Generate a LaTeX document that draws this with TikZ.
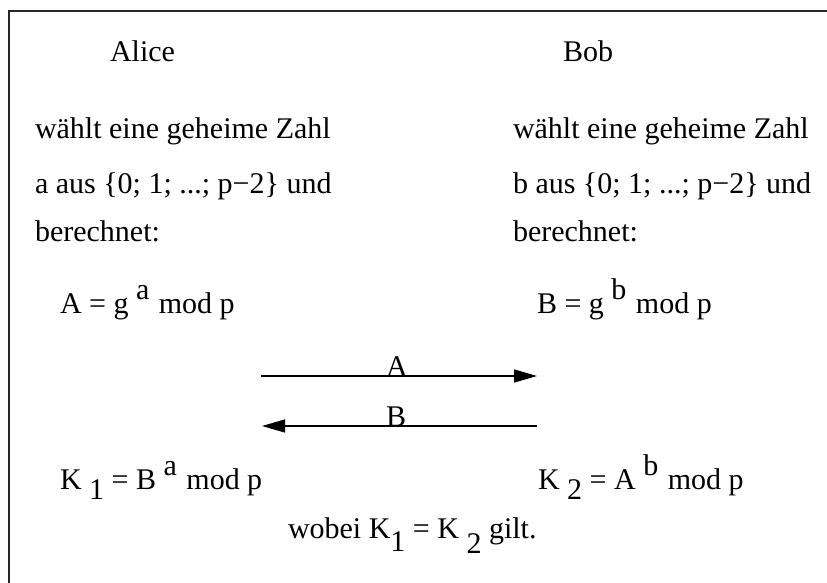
\documentclass[tikz,border=0pt]{standalone}
\usepackage{fontspec}
\setmainfont{Liberation Serif}
\usetikzlibrary{arrows.meta}
\tikzset{
  txt/.style={anchor=base west, inner sep=0pt, outer sep=0pt, font=\fontsize{30}{36}\selectfont},
  lbl/.style={anchor=base, inner sep=0pt, outer sep=0pt, font=\fontsize{30}{36}\selectfont},
  msg/.style={line width=1.3pt, -{Triangle[length=23pt,width=13pt]}},
  frame/.style={line width=1.6pt, draw=black!85}
}
\newcommand{\sps}[1]{\raisebox{14pt}{#1}\hspace{2pt}}
\newcommand{\sbs}[2][10pt]{\raisebox{-#1}{#2}}
\begin{document}
\begin{tikzpicture}[x=1pt,y=-1pt]
\useasboundingbox (0,0) rectangle (827,583);
\draw[frame] (9,583) -- (9,11) -- (827,11);

\node[txt] (alice) at (110,62) {Alice};
\node[txt] (bob) at (563,62) {Bob};

\node[txt] (a1) at (35,139) {wählt eine geheime Zahl};
\node[txt] (a2) at (35,193) {a aus \{0; 1; ...; p−2\} und};
\node[txt] (a3) at (35,241) {berechnet:};

\node[txt] (b1) at (513,139) {wählt eine geheime Zahl};
\node[txt] (b2) at (513,193) {b aus \{0; 1; ...; p−2\} und};
\node[txt] (b3) at (513,241) {berechnet:};

\node[txt] (fa) at (60,313) {A = g \sps{a} mod p};
\node[txt] (fb) at (537,313) {B = g \sps{b} mod p};

\coordinate (al) at (261,376);
\coordinate (ar) at (537,376);
\coordinate (bl) at (262,426);
\coordinate (br) at (537,426);
\draw[msg] (al) -- (ar);
\draw[msg] (br) -- (bl);
\node[lbl] (la) at (397,376) {A};
\node[lbl] (lb) at (396,426) {B};

\node[txt] (ka) at (60,489) {K \sbs{1} = B \sps{a} mod p};
\node[txt] (kb) at (538,489) {K \sbs{2} = A \sps{b} mod p};

\node[txt] (eq) at (288,538) {wobei K\sbs[13pt]{1} = K \sbs[15pt]{2} gilt.};
\end{tikzpicture}
\end{document}
